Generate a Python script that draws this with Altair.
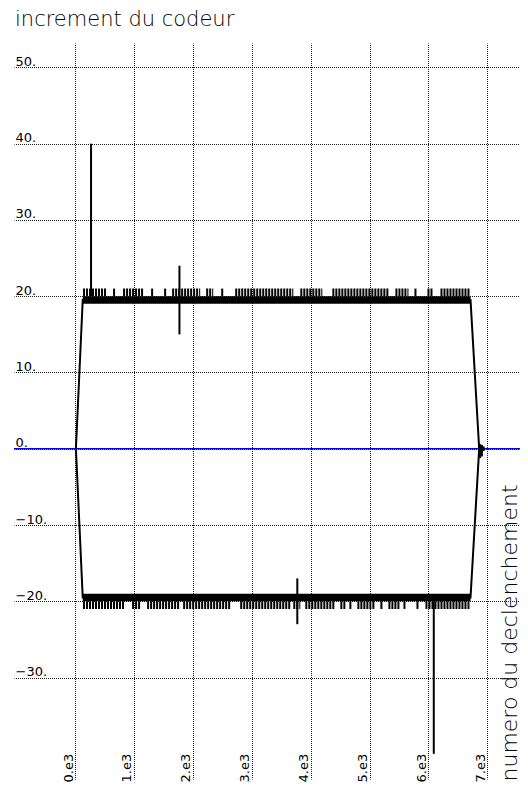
import altair as alt
import pandas as pd

# ---- data ----
x_ticks = [0, 1000, 2000, 3000, 4000, 5000, 6000, 7000]
y_ticks = [-30, -20, -10, 0, 10, 20, 30, 40, 50]

# main trace (positive and negative branch)
trace_x = [15, 131, 6715, 6862]
trace_top_y = [0, 19.5, 19.5, 0]
trace_bot_y = [0, -19.5, -19.5, 0]

# solid bands (values alternating 19/20 and -19/-20)
band_x = [131]
band_x2 = [6715]
band_top = [19, 20]
band_bot = [-20, -19]

# stretches where the value reaches 21 / -21
top_seg_start = [136, 646, 816, 1292, 1513, 1649, 2227, 2482, 2720, 3825, 4369, 5440, 5763, 5984, 6205]
top_seg_end = [544, 680, 1156, 1326, 1547, 2125, 2346, 2516, 3706, 4199, 5321, 5661, 5797, 6069, 6715]
bot_seg_start = [136, 969, 1224, 1836, 2805, 3706, 3910, 4505, 4658, 4794, 5185, 5321, 5576, 5797, 5950]
bot_seg_end = [850, 1105, 1785, 2635, 3655, 3825, 4420, 4590, 4709, 5100, 5236, 5525, 5610, 5831, 6715]

# isolated spikes
spike_x = [272, 1773, 3774, 6091]
spike_lo = [20, 15, -23, -40]
spike_hi = [40, 24, -17, -20]

# small wiggle around zero at the end
end_x = [6870, 6900, 6930]
end_lo = [-1.2, -1.0, -0.3]
end_hi = [0.6, 0.5, 0.3]

X_DOMAIN = [-1036, 7555]
Y_DOMAIN = [-43.3, 53.2]

xs = alt.Scale(domain=X_DOMAIN, nice=False, zero=False)
ys = alt.Scale(domain=Y_DOMAIN, nice=False, zero=False)

LABEL_FONT = "DejaVu Sans"
GRID = dict(grid=True, gridColor="#000", gridDash=[1, 1], gridDashOffset=0.5,
            gridWidth=1, gridOpacity=0.9)

x_axis = alt.Axis(
    values=x_ticks, domain=False, ticks=False, tickSize=0,
    labelExpr="(datum.value/1000) + '.e3'",
    labelAngle=270, labelAlign="left", labelBaseline="alphabetic",
    labelPadding=3, labelOffset=-3, labelFont=LABEL_FONT, labelFontSize=13,
    labelColor="#000", labelOverlap=False, labelBound=False, labelFlush=False,
    title="numero du declenchement", titleAngle=270, titleAlign="left",
    titleBaseline="alphabetic", titleX=502, titleY=2,
    titleFont=LABEL_FONT, titleFontSize=22, titleFontWeight=200, titleColor="#000",
    **GRID,
)
y_axis = alt.Axis(
    values=y_ticks, domain=False, ticks=False, tickSize=0,
    labelExpr="(datum.value < 0 ? '\u2212' + (-datum.value) : datum.value) + '.'",
    labelAlign="left", labelBaseline="alphabetic", labelPadding=-1, labelOffset=-2,
    labelFont=LABEL_FONT, labelFontSize=13, labelColor="#000",
    labelOverlap=False, labelBound=False, labelFlush=False, title=None,
    **GRID,
)

rows = []
for i, (x, y) in enumerate(zip(trace_x, trace_top_y)):
    rows.append({"x": x, "y": y, "s": "top", "i": i})
for i, (x, y) in enumerate(zip(trace_x, trace_bot_y)):
    rows.append({"x": x, "y": y, "s": "bot", "i": i})
trace_df = pd.DataFrame(rows)

grid_layer = alt.Chart(pd.DataFrame({"x": [0], "y": [0]})).mark_point(opacity=0).encode(
    x=alt.X("x:Q", scale=xs, axis=x_axis),
    y=alt.Y("y:Q", scale=ys, axis=y_axis),
)

zero_line = alt.Chart(pd.DataFrame({"y": [0]})).mark_rule(color="#0000ff", strokeWidth=1.5).encode(
    y=alt.Y("y:Q", scale=ys)
)

trace = alt.Chart(trace_df).mark_line(color="#000", strokeWidth=2).encode(
    x=alt.X("x:Q", scale=xs), y=alt.Y("y:Q", scale=ys), detail="s:N", order="i:Q"
)

band_df = pd.DataFrame({
    "x": band_x * 2, "x2": band_x2 * 2,
    "y": [band_top[0], band_bot[0]], "y2": [band_top[1], band_bot[1]],
})
bands = alt.Chart(band_df).mark_rect(color="#000").encode(
    x=alt.X("x:Q", scale=xs), x2="x2:Q", y=alt.Y("y:Q", scale=ys), y2="y2:Q"
)

seg_df = pd.DataFrame({
    "x": top_seg_start + bot_seg_start,
    "x2": top_seg_end + bot_seg_end,
    "y": [20.5] * len(top_seg_start) + [-20.5] * len(bot_seg_start),
})
combs = alt.Chart(seg_df).mark_rule(color="#000", strokeWidth=7.6, strokeDash=[2, 1]).encode(
    x=alt.X("x:Q", scale=xs), x2="x2:Q", y=alt.Y("y:Q", scale=ys)
)

spike_df = pd.DataFrame({"x": spike_x, "y": spike_lo, "y2": spike_hi})
spikes = alt.Chart(spike_df).mark_rule(color="#000", strokeWidth=2).encode(
    x=alt.X("x:Q", scale=xs), y=alt.Y("y:Q", scale=ys), y2="y2:Q"
)

end_df = pd.DataFrame({"x": end_x, "y": end_lo, "y2": end_hi})
ends = alt.Chart(end_df).mark_rule(color="#000", strokeWidth=3).encode(
    x=alt.X("x:Q", scale=xs), y=alt.Y("y:Q", scale=ys), y2="y2:Q"
)

chart = alt.layer(grid_layer, zero_line, bands, combs, trace, spikes, ends).properties(
    width=506, height=736,
    background="white",
    title=alt.TitleParams(
        "increment du codeur", anchor="start", orient="top", frame="group",
        font=LABEL_FONT, fontSize=21, fontWeight=200, color="#000",
        baseline="alphabetic", offset=2, dx=1, dy=6,
    ),
    autosize=alt.AutoSizeParams(type="none"),
    padding={"left": 6, "top": 35, "right": 0, "bottom": 4},
).configure_view(stroke=None)

chart.save("out.html", embed_options={"renderer": "svg", "actions": False})
